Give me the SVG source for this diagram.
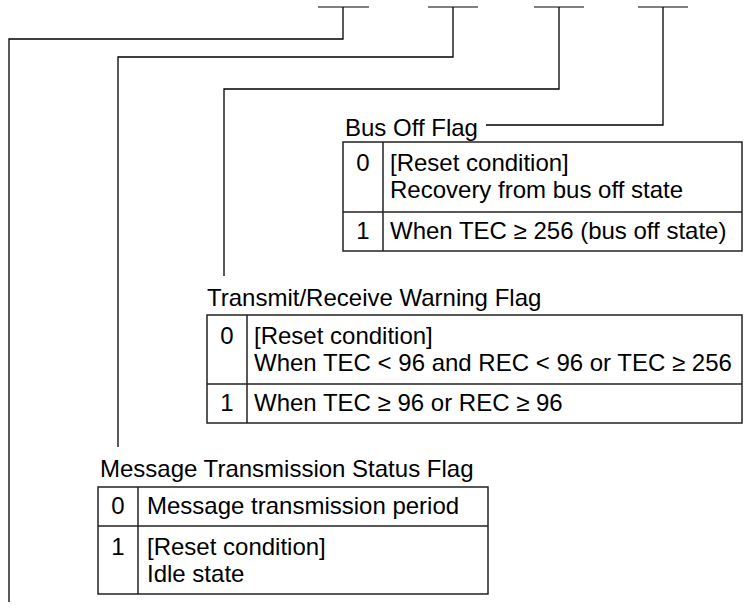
<svg xmlns="http://www.w3.org/2000/svg" width="744" height="612" viewBox="0 0 744 612">
<style>
.bar{stroke:#808080;stroke-width:2;fill:none}
.ln{stroke:#000;stroke-width:1.3;fill:none}
.tb{stroke:#222;stroke-width:1.5;fill:none}
text{font-family:"Liberation Sans",Arial,sans-serif;font-size:24px;fill:#000}
.c{text-anchor:middle}
</style>
<rect width="744" height="612" fill="#fff"/>
<g id="bits">
<line class="bar" x1="318" y1="7" x2="369" y2="7"/>
<line class="bar" x1="428" y1="7" x2="478" y2="7"/>
<line class="bar" x1="534" y1="7" x2="584" y2="7"/>
<line class="bar" x1="638" y1="7" x2="688" y2="7"/>
</g>
<g id="connectors">
<polyline class="ln" points="343,7 343,39 9,39 9,602"/>
<polyline class="ln" points="453,7 453,57 118,57 118,447"/>
<polyline class="ln" points="559,7 559,89 224,89 224,276"/>
<polyline class="ln" points="663,7 663,125 486,125"/>
</g>
<g id="busoff">
<text x="345" y="136">Bus Off Flag</text>
<rect class="tb" x="343" y="142" width="399" height="109"/>
<line class="tb" x1="383" y1="142" x2="383" y2="251"/>
<line class="tb" x1="343" y1="212" x2="742" y2="212"/>
<text class="c" x="363" y="171">0</text>
<text x="390" y="171">[Reset condition]</text>
<text x="390" y="198">Recovery from bus off state</text>
<text class="c" x="363" y="239">1</text>
<text x="390" y="239">When TEC ≥ 256 (bus off state)</text>
</g>
<g id="warning">
<text x="207" y="306">Transmit/Receive Warning Flag</text>
<rect class="tb" x="207" y="315" width="535" height="108"/>
<line class="tb" x1="247" y1="315" x2="247" y2="423"/>
<line class="tb" x1="207" y1="384" x2="742" y2="384"/>
<text class="c" x="227" y="344">0</text>
<text x="254" y="344">[Reset condition]</text>
<text x="254" y="371">When TEC &lt; 96 and REC &lt; 96 or TEC ≥ 256</text>
<text class="c" x="227" y="411">1</text>
<text x="254" y="411">When TEC ≥ 96 or REC ≥ 96</text>
</g>
<g id="txstatus">
<text x="100" y="477">Message Transmission Status Flag</text>
<rect class="tb" x="98" y="487" width="390" height="107"/>
<line class="tb" x1="138" y1="487" x2="138" y2="594"/>
<line class="tb" x1="98" y1="526" x2="488" y2="526"/>
<text class="c" x="118" y="514">0</text>
<text x="147" y="514">Message transmission period</text>
<text class="c" x="118" y="555">1</text>
<text x="147" y="555">[Reset condition]</text>
<text x="147" y="582">Idle state</text>
</g>
</svg>
